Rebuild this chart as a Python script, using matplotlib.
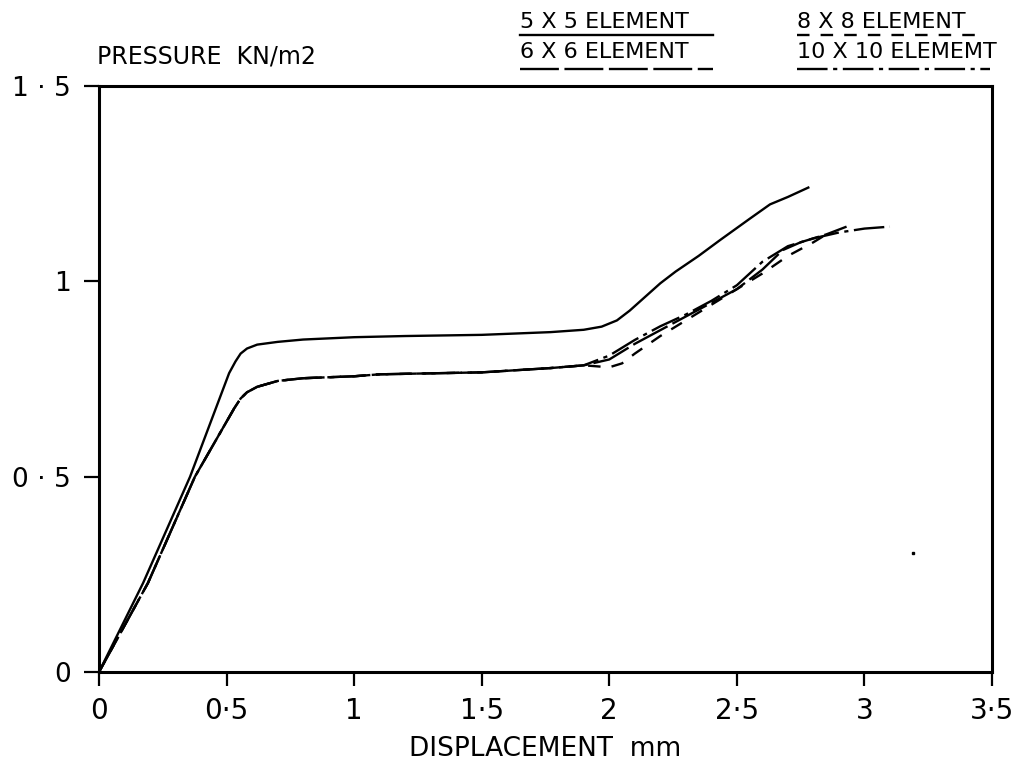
import matplotlib
matplotlib.use("Agg")
import matplotlib.pyplot as plt
from matplotlib.lines import Line2D

plt.rcParams["font.family"] = ["DejaVu Sans"]
plt.rcParams["lines.scale_dashes"] = False

# load-displacement curves
x_5x5 = [0, 0.173, 0.357, 0.51, 0.535, 0.555, 0.58, 0.62, 0.7, 0.8, 1.0, 1.2, 1.5, 1.77,
         1.9, 1.97, 2.03, 2.08, 2.14, 2.2, 2.26, 2.35, 2.435, 2.55, 2.63, 2.7, 2.74, 2.78]
y_5x5 = [0, 0.228, 0.5, 0.765, 0.795, 0.815, 0.828, 0.838, 0.845, 0.851, 0.857, 0.86, 0.863, 0.87,
         0.876, 0.884, 0.9, 0.925, 0.96, 0.995, 1.025, 1.065, 1.106, 1.16, 1.197, 1.216, 1.228, 1.24]

x_common = [0, 0.192, 0.376, 0.53, 0.555, 0.58, 0.62, 0.7, 0.8, 1.0, 1.1, 1.5, 1.77, 1.9]
y_common = [0, 0.228, 0.5, 0.675, 0.7, 0.716, 0.73, 0.745, 0.752, 0.757, 0.762, 0.767, 0.778, 0.785]

x_6x6 = x_common + [2.0, 2.1, 2.2, 2.3, 2.4, 2.5, 2.6, 2.68, 2.75, 2.85, 2.93]
y_6x6 = y_common + [0.80, 0.84, 0.875, 0.91, 0.945, 0.98, 1.03, 1.08, 1.10, 1.12, 1.14]

x_8x8 = x_common + [2.0, 2.05, 2.1, 2.2, 2.3, 2.4, 2.5, 2.6, 2.7, 2.8, 2.85]
y_8x8 = y_common + [0.78, 0.79, 0.815, 0.86, 0.90, 0.94, 0.98, 1.02, 1.065, 1.10, 1.12]

x_10x10 = x_common + [2.0, 2.1, 2.2, 2.3, 2.4, 2.5, 2.6, 2.7, 2.8, 2.9, 3.0, 3.1]
y_10x10 = y_common + [0.81, 0.85, 0.885, 0.915, 0.95, 0.99, 1.05, 1.09, 1.11, 1.125, 1.135, 1.14]

# stray speck on the scan
speck_x = [3.19]
speck_y = [0.305]

x_ticks = [0, 0.5, 1, 1.5, 2, 2.5, 3, 3.5]
x_tick_labels = ["0", "0·5", "1", "1·5", "2", "2·5", "3", "3·5"]
y_ticks = [0, 0.5, 1, 1.5]
y_tick_labels = ["0", "0 · 5", "1", "1 · 5"]

styles = {
    "5 X 5 ELEMENT": "-",
    "6 X 6 ELEMENT": (0, (28, 4)),
    "8 X 8 ELEMENT": (0, (9, 8)),
    "10 X 10 ELEMEMT": (0, (22, 4, 3, 4)),
}

W, H = 1015, 767
fig = plt.figure(figsize=(W / 100, H / 100), dpi=100)
ax = fig.add_axes([99 / W, (H - 672) / H, 893 / W, 586 / H])

lw = 1.7
ax.plot(x_5x5, y_5x5, color="k", lw=lw, ls=styles["5 X 5 ELEMENT"])
ax.plot(x_6x6, y_6x6, color="k", lw=lw, ls=styles["6 X 6 ELEMENT"])
ax.plot(x_8x8, y_8x8, color="k", lw=lw, ls=styles["8 X 8 ELEMENT"])
ax.plot(x_10x10, y_10x10, color="k", lw=lw, ls=styles["10 X 10 ELEMEMT"])
ax.plot(speck_x, speck_y, "ks", ms=1.8)

ax.set_xlim(0, 3.5)
ax.set_ylim(0, 1.5)
ax.set_xticks(x_ticks)
ax.set_xticklabels(x_tick_labels)
ax.set_yticks(y_ticks)
ax.set_yticklabels(y_tick_labels)
ax.tick_params(axis="x", direction="out", length=10, width=1.6, pad=8, labelsize=20)
ax.tick_params(axis="y", direction="out", length=10.5, width=1.6, pad=10, labelsize=19)
for s in ax.spines.values():
    s.set_linewidth(2.2)

ax.set_xlabel("DISPLACEMENT  mm", fontsize=19, labelpad=8)
fig.text(97 / W, 1 - 56 / H, "PRESSURE  KN/m2", fontsize=17, va="center", ha="left")

# legend written as text with underlines in the line style
legend_pos = [
    ("5 X 5 ELEMENT", 520, 22, 35, 713),
    ("6 X 6 ELEMENT", 520, 52, 69, 713),
    ("8 X 8 ELEMENT", 797, 22, 35, 975),
    ("10 X 10 ELEMEMT", 797, 52, 69, 990),
]
for name, x0, yc, yu, x1 in legend_pos:
    fig.text(x0 / W, 1 - yc / H, name, fontsize=16, va="center", ha="left")
    yl = 1 - yu / H
    fig.add_artist(Line2D([x0 / W, x1 / W], [yl, yl], color="k", lw=1.7,
                          ls=styles[name], transform=fig.transFigure))

fig.savefig("out.png", dpi=100)
